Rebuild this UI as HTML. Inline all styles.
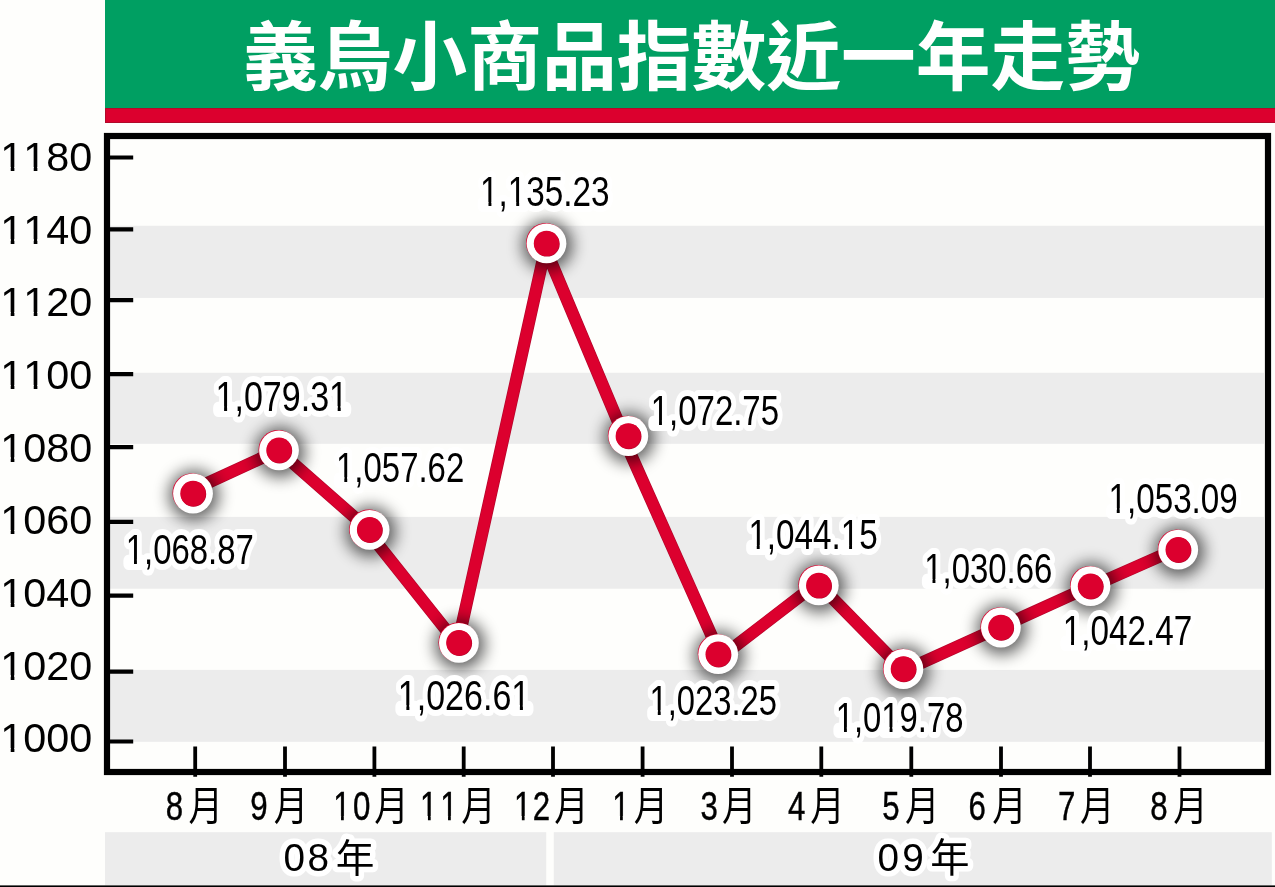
<!DOCTYPE html>
<html lang="zh-Hant"><head><meta charset="utf-8"><title>義烏小商品指數近一年走勢</title>
<style>html,body{margin:0;padding:0;background:#fefefc}body{width:1275px;height:887px;overflow:hidden}svg{display:block;will-change:transform}text{font-family:"Liberation Sans","Noto Sans CJK TC",sans-serif;fill:#000;font-kerning:none;white-space:pre}.m{stroke:#000;stroke-width:.45}.i{fill:none;stroke:none}.h{stroke:#fff;stroke-width:11;vector-effect:non-scaling-stroke;stroke-linejoin:round;paint-order:stroke fill}</style></head><body>
<svg width="1275" height="887" viewBox="0 0 1275 887" role="img" aria-label="義烏小商品指數近一年走勢">
<defs><filter id="sh" x="0" y="0" width="1275" height="887" filterUnits="userSpaceOnUse"><feGaussianBlur stdDeviation="8.0"/></filter></defs>
<rect x="105" y="0" width="1170" height="108" fill="#009f62"/>
<rect x="105.5" y="108.5" width="1171" height="14" fill="#dc002e" stroke="#b00a2a" stroke-width="1"/>
<text x="243" y="83.5" font-size="74.8" font-weight="bold" textLength="897" style="fill:#fff">義烏小商品指數近一年走勢</text>
<rect x="110" y="225.8" width="1154" height="72.1" fill="#ececec"/>
<rect x="110" y="372.8" width="1154" height="71.0" fill="#ececec"/>
<rect x="110" y="516.9" width="1154" height="71.8" fill="#ececec"/>
<rect x="110" y="669.9" width="1154" height="71.9" fill="#ececec"/>
<rect x="107" y="136" width="1161" height="636" fill="none" stroke="#000" stroke-width="6.2"/>
<path d="M109 157.5H133.2M109 229.3H133.2M109 300.1H133.2M109 374.1H133.2M109 447.2H133.2M109 521.8H133.2M109 595.6H133.2M109 671.7H133.2M109 741.5H133.2" stroke="#000" stroke-width="4.2" fill="none"/>
<path d="M195.2 746.4V776.8M285.0 746.4V776.8M374.4 746.4V776.8M463.7 746.4V776.8M553.0 746.4V776.8M642.6 746.4V776.8M732.0 746.4V776.8M821.3 746.4V776.8M911.3 746.4V776.8M1001.0 746.4V776.8M1090.0 746.4V776.8M1179.5 746.4V776.8" stroke="#000" stroke-width="3.8" fill="none"/>
<text transform="translate(0.32 170.8) scale(1.0338 1)" font-size="40.0">1180</text><path d="M2.06 167.00H10.72V172.00H2.06ZM14.38 167.00H22.71V172.00H14.38ZM25.06 167.00H33.72V172.00H25.06ZM37.37 167.00H45.71V172.00H37.37Z" fill="#fefefc"/>
<text transform="translate(0.32 243.5) scale(1.0338 1)" font-size="40.0">1140</text><path d="M2.06 239.00H10.72V245.00H2.06ZM14.38 239.00H22.71V245.00H14.38ZM25.06 239.00H33.72V245.00H25.06ZM37.37 239.00H45.71V245.00H37.37Z" fill="#fefefc"/>
<text transform="translate(0.32 316.2) scale(1.0338 1)" font-size="40.0">1120</text><path d="M2.06 312.00H10.72V318.00H2.06ZM14.38 312.00H22.71V318.00H14.38ZM25.06 312.00H33.72V318.00H25.06ZM37.37 312.00H45.71V318.00H37.37Z" fill="#fefefc"/>
<text transform="translate(0.32 388.9) scale(1.0338 1)" font-size="40.0">1100</text><path d="M2.06 385.00H10.72V390.00H2.06ZM14.38 385.00H22.71V390.00H14.38ZM25.06 385.00H33.72V390.00H25.06ZM37.37 385.00H45.71V390.00H37.37Z" fill="#fefefc"/>
<text transform="translate(0.32 461.6) scale(1.0338 1)" font-size="40.0">1080</text><path d="M2.06 457.00H10.72V463.00H2.06ZM14.38 457.00H22.71V463.00H14.38Z" fill="#fefefc"/>
<text transform="translate(0.32 534.3) scale(1.0338 1)" font-size="40.0">1060</text><path d="M2.06 530.00H10.72V536.00H2.06ZM14.38 530.00H22.71V536.00H14.38Z" fill="#fefefc"/>
<text transform="translate(0.32 607.0) scale(1.0338 1)" font-size="40.0">1040</text><path d="M2.06 603.00H10.72V608.00H2.06ZM14.38 603.00H22.71V608.00H14.38Z" fill="#fefefc"/>
<text transform="translate(0.32 679.7) scale(1.0338 1)" font-size="40.0">1020</text><path d="M2.06 675.00H10.72V681.00H2.06ZM14.38 675.00H22.71V681.00H14.38Z" fill="#fefefc"/>
<text transform="translate(0.32 752.4) scale(1.0338 1)" font-size="40.0">1000</text><path d="M2.06 748.00H10.72V754.00H2.06ZM14.38 748.00H22.71V754.00H14.38Z" fill="#fefefc"/>
<path d="M198.5 487.2L272.1 453.2M284.7 455.8L363.8 525.4M372.8 537.8L452.5 638.0M459.4 636.0L545.0 250.0M546.9 252.0L620.7 428.0M626.2 444.0L716.2 646.0M728.0 651.7L810.0 588.6M826.0 591.6L896.0 663.0M912.0 667.2L992.0 630.8M1008.0 623.7L1083.0 589.7M1098.0 583.7L1171.0 551.4" fill="none" stroke="#b4062c" stroke-width="12.4"/><path d="M198.5 487.2L272.1 453.2M284.7 455.8L363.8 525.4M372.8 537.8L452.5 638.0M459.4 636.0L545.0 250.0M546.9 252.0L620.7 428.0M626.2 444.0L716.2 646.0M728.0 651.7L810.0 588.6M826.0 591.6L896.0 663.0M912.0 667.2L992.0 630.8M1008.0 623.7L1083.0 589.7M1098.0 583.7L1171.0 551.4" fill="none" stroke="#dc002e" stroke-width="11"/>
<g filter="url(#sh)" opacity="0.62"><circle cx="194.0" cy="495.3" r="25"/><circle cx="280.0" cy="452.1" r="25"/><circle cx="370.6" cy="531.6" r="25"/><circle cx="459.9" cy="644.6" r="25"/><circle cx="547.5" cy="245.2" r="25"/><circle cx="629.3" cy="437.8" r="25"/><circle cx="719.2" cy="656.0" r="25"/><circle cx="819.8" cy="587.2" r="25"/><circle cx="904.4" cy="670.8" r="25"/><circle cx="1001.9" cy="629.3" r="25"/><circle cx="1091.5" cy="588.0" r="25"/><circle cx="1179.2" cy="551.5" r="25"/></g>
<circle cx="192.2" cy="492.9" r="19.7" fill="#dc002e"/><circle cx="193.0" cy="493.5" r="19.9" fill="#fff"/><circle cx="193.5" cy="494.0" r="12.7" fill="#b4062c"/><circle cx="193.0" cy="493.5" r="12.7" fill="#dc002e"/>
<circle cx="278.2" cy="449.7" r="19.7" fill="#dc002e"/><circle cx="279.0" cy="450.3" r="19.9" fill="#fff"/><circle cx="279.5" cy="450.8" r="12.7" fill="#b4062c"/><circle cx="279.0" cy="450.3" r="12.7" fill="#dc002e"/>
<circle cx="368.8" cy="529.2" r="19.7" fill="#dc002e"/><circle cx="369.6" cy="529.8" r="19.9" fill="#fff"/><circle cx="370.1" cy="530.3" r="12.7" fill="#b4062c"/><circle cx="369.6" cy="529.8" r="12.7" fill="#dc002e"/>
<circle cx="458.1" cy="642.2" r="19.7" fill="#dc002e"/><circle cx="458.9" cy="642.8" r="19.9" fill="#fff"/><circle cx="459.4" cy="643.3" r="12.7" fill="#b4062c"/><circle cx="458.9" cy="642.8" r="12.7" fill="#dc002e"/>
<circle cx="545.7" cy="242.8" r="19.7" fill="#dc002e"/><circle cx="546.5" cy="243.4" r="19.9" fill="#fff"/><circle cx="547.0" cy="243.9" r="12.7" fill="#b4062c"/><circle cx="546.5" cy="243.4" r="12.7" fill="#dc002e"/>
<circle cx="627.5" cy="435.4" r="19.7" fill="#dc002e"/><circle cx="628.3" cy="436.0" r="19.9" fill="#fff"/><circle cx="628.8" cy="436.5" r="12.7" fill="#b4062c"/><circle cx="628.3" cy="436.0" r="12.7" fill="#dc002e"/>
<circle cx="717.4" cy="653.6" r="19.7" fill="#dc002e"/><circle cx="718.2" cy="654.2" r="19.9" fill="#fff"/><circle cx="718.7" cy="654.7" r="12.7" fill="#b4062c"/><circle cx="718.2" cy="654.2" r="12.7" fill="#dc002e"/>
<circle cx="818.0" cy="584.8" r="19.7" fill="#dc002e"/><circle cx="818.8" cy="585.4" r="19.9" fill="#fff"/><circle cx="819.3" cy="585.9" r="12.7" fill="#b4062c"/><circle cx="818.8" cy="585.4" r="12.7" fill="#dc002e"/>
<circle cx="902.6" cy="668.4" r="19.7" fill="#dc002e"/><circle cx="903.4" cy="669.0" r="19.9" fill="#fff"/><circle cx="903.9" cy="669.5" r="12.7" fill="#b4062c"/><circle cx="903.4" cy="669.0" r="12.7" fill="#dc002e"/>
<circle cx="1000.1" cy="626.9" r="19.7" fill="#dc002e"/><circle cx="1000.9" cy="627.5" r="19.9" fill="#fff"/><circle cx="1001.4" cy="628.0" r="12.7" fill="#b4062c"/><circle cx="1000.9" cy="627.5" r="12.7" fill="#dc002e"/>
<circle cx="1089.7" cy="585.6" r="19.7" fill="#dc002e"/><circle cx="1090.5" cy="586.2" r="19.9" fill="#fff"/><circle cx="1091.0" cy="586.7" r="12.7" fill="#b4062c"/><circle cx="1090.5" cy="586.2" r="12.7" fill="#dc002e"/>
<circle cx="1177.4" cy="549.1" r="19.7" fill="#dc002e"/><circle cx="1178.2" cy="549.7" r="19.9" fill="#fff"/><circle cx="1178.7" cy="550.2" r="12.7" fill="#b4062c"/><circle cx="1178.2" cy="549.7" r="12.7" fill="#dc002e"/>
<text class="h" transform="translate(125.73 563.8) scale(0.7912 1)" font-size="41.6">1,068.87</text><path d="M127.12 559.00H134.01V565.00H127.12ZM136.92 559.00H143.56V565.00H136.92Z" fill="#fff"/>
<text class="h" transform="translate(215.52 410.6) scale(0.8185 1)" font-size="41.6">1,079.31</text><path d="M216.95 406.00H224.09V412.00H216.95ZM227.10 406.00H233.96V412.00H227.10ZM330.56 406.00H337.69V412.00H330.56ZM340.70 406.00H347.57V412.00H340.70Z" fill="#fff"/>
<text class="h" transform="translate(336.03 481.7) scale(0.7919 1)" font-size="41.6">1,057.62</text><path d="M337.41 477.00H344.31V483.00H337.41ZM347.23 477.00H353.87V483.00H347.23Z" fill="#fff"/>
<text class="h" transform="translate(397.83 709.5) scale(0.8178 1)" font-size="41.6">1,026.61</text><path d="M399.26 705.00H406.38V711.00H399.26ZM409.39 705.00H416.25V711.00H409.39ZM512.77 705.00H519.89V711.00H512.77ZM522.90 705.00H529.76V711.00H522.90Z" fill="#fff"/>
<text class="h" transform="translate(480.10 206.3) scale(0.8001 1)" font-size="41.6">1,135.23</text><path d="M481.50 202.00H488.47V208.00H481.50ZM491.41 202.00H498.12V208.00H491.41ZM509.26 202.00H516.23V208.00H509.26ZM519.17 202.00H525.88V208.00H519.17Z" fill="#fff"/>
<text class="h" transform="translate(650.73 424.6) scale(0.7927 1)" font-size="41.6">1,072.75</text><path d="M652.11 420.00H659.02V426.00H652.11ZM661.93 420.00H668.58V426.00H661.93Z" fill="#fff"/>
<text class="h" transform="translate(649.55 714.8) scale(0.7875 1)" font-size="41.6">1,023.25</text><path d="M650.92 710.00H657.79V716.00H650.92ZM660.68 710.00H667.29V716.00H660.68Z" fill="#fff"/>
<text class="h" transform="translate(748.41 549.0) scale(0.7984 1)" font-size="41.6">1,044.15</text><path d="M749.80 545.00H756.76V550.00H749.80ZM759.69 545.00H766.39V550.00H759.69ZM842.14 545.00H849.10V550.00H842.14ZM852.04 545.00H858.74V550.00H852.04Z" fill="#fff"/>
<text class="h" transform="translate(835.74 731.9) scale(0.7885 1)" font-size="41.6">1,019.78</text><path d="M837.12 727.00H843.99V733.00H837.12ZM846.89 727.00H853.51V733.00H846.89ZM882.72 727.00H889.59V733.00H882.72ZM892.49 727.00H899.10V733.00H892.49Z" fill="#fff"/>
<text class="h" transform="translate(924.23 583.1) scale(0.7912 1)" font-size="41.6">1,030.66</text><path d="M925.62 579.00H932.51V585.00H925.62ZM935.42 579.00H942.06V585.00H935.42Z" fill="#fff"/>
<text class="h" transform="translate(1062.70 644.6) scale(0.8002 1)" font-size="41.6">1,042.47</text><path d="M1064.10 640.00H1071.07V646.00H1064.10ZM1074.01 640.00H1080.72V646.00H1074.01Z" fill="#fff"/>
<text class="h" transform="translate(1108.40 512.8) scale(0.7996 1)" font-size="41.6">1,053.09</text><path d="M1109.80 508.00H1116.76V514.00H1109.80ZM1119.70 508.00H1126.41V514.00H1119.70Z" fill="#fff"/>
<text class="m" transform="translate(165.72 819.8) scale(0.7800 1)" font-size="40.0">8</text>
<text class="m" transform="translate(250.33 819.8) scale(0.7800 1)" font-size="40.0">9</text>
<text class="m" transform="translate(333.20 819.8) scale(0.7800 1)" font-size="40.0" letter-spacing="3.10">10</text><path d="M334.51 816.00H341.04V821.00H334.51ZM343.80 816.00H350.09V821.00H343.80Z" fill="#fefefc"/>
<text class="m" transform="translate(420.10 819.8) scale(0.7800 1)" font-size="40.0" letter-spacing="3.52">11</text><path d="M421.41 816.00H427.94V821.00H421.41ZM430.70 816.00H436.99V821.00H430.70ZM441.51 816.00H448.04V821.00H441.51ZM450.80 816.00H457.09V821.00H450.80Z" fill="#fefefc"/>
<text class="m" transform="translate(514.00 819.8) scale(0.7800 1)" font-size="40.0" letter-spacing="1.88">12</text><path d="M515.31 816.00H521.84V821.00H515.31ZM524.60 816.00H530.89V821.00H524.60Z" fill="#fefefc"/>
<text class="m" transform="translate(612.20 819.8) scale(0.7800 1)" font-size="40.0">1</text><path d="M613.51 816.00H620.04V821.00H613.51ZM622.80 816.00H629.09V821.00H622.80Z" fill="#fefefc"/>
<text class="m" transform="translate(700.62 819.8) scale(0.7800 1)" font-size="40.0">3</text>
<text class="m" transform="translate(788.12 819.8) scale(0.7800 1)" font-size="40.0">4</text>
<text class="m" transform="translate(882.30 819.8) scale(0.7800 1)" font-size="40.0">5</text>
<text class="m" transform="translate(968.57 819.8) scale(0.7800 1)" font-size="40.0">6</text>
<text class="m" transform="translate(1058.06 819.8) scale(0.7800 1)" font-size="40.0">7</text>
<text class="m" transform="translate(1150.17 819.8) scale(0.7800 1)" font-size="40.0">8</text>
<text transform="translate(188.5 819.8) scale(0.86 1)" font-size="40">月</text>
<text transform="translate(273.8 819.8) scale(0.86 1)" font-size="40">月</text>
<text transform="translate(374.3 819.8) scale(0.86 1)" font-size="40">月</text>
<text transform="translate(461.2 819.8) scale(0.86 1)" font-size="40">月</text>
<text transform="translate(554.3 819.8) scale(0.86 1)" font-size="40">月</text>
<text transform="translate(633.7 819.8) scale(0.86 1)" font-size="40">月</text>
<text transform="translate(722.1 819.8) scale(0.86 1)" font-size="40">月</text>
<text transform="translate(810.2 819.8) scale(0.86 1)" font-size="40">月</text>
<text transform="translate(904.9 819.8) scale(0.86 1)" font-size="40">月</text>
<text transform="translate(992.2 819.8) scale(0.86 1)" font-size="40">月</text>
<text transform="translate(1080 819.8) scale(0.86 1)" font-size="40">月</text>
<text transform="translate(1173.2 819.8) scale(0.86 1)" font-size="40">月</text>
<rect x="105" y="832.2" width="441.2" height="53" fill="#ececec"/>
<rect x="553.8" y="832.2" width="718" height="53" fill="#ececec"/>
<text class="h" transform="translate(283.49 870.6) scale(1.0000 1)" font-size="38.7" letter-spacing="2.55">08</text>
<text class="h" x="335.8" y="871.5" font-size="38.7">年</text>
<text class="h" transform="translate(877.49 870.6) scale(1.0000 1)" font-size="38.7" letter-spacing="3.30">09</text>
<text class="h" x="930.3" y="871.5" font-size="39.3">年</text>
<rect x="0" y="885.4" width="1275" height="1.6" fill="#000"/>
</svg></body></html>
